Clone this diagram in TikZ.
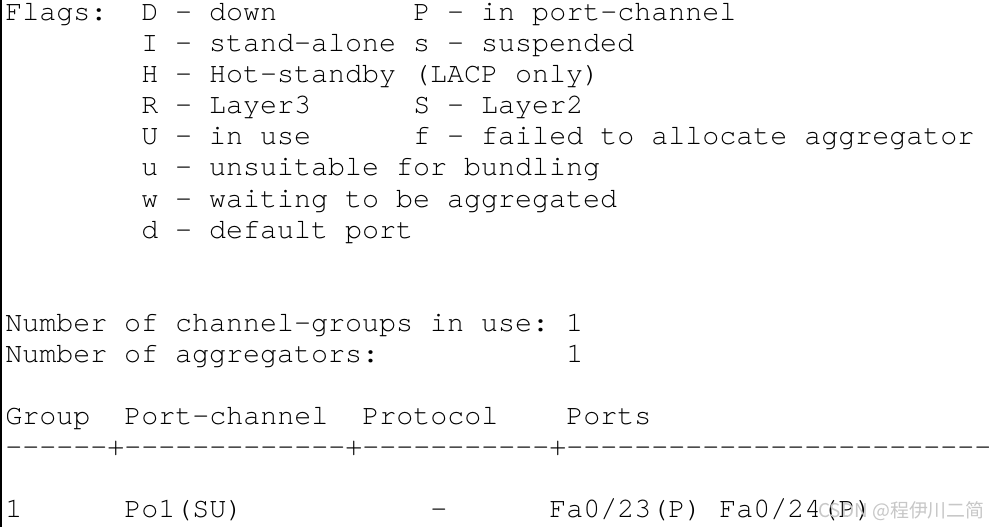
\documentclass[tikz,border=0pt]{standalone}
\usepackage{fontspec}
\setmonofont{TeX Gyre Cursor}
\newfontfamily\cjkfont{Noto Sans CJK SC}
\tikzset{
  tty/.style={anchor=base west, inner sep=0pt, text=black,
    font=\ttfamily\fontsize{21.25}{23.25}\selectfont},
  wmark/.style={anchor=base east, inner sep=0pt, text=black!22,
    font=\cjkfont\fontsize{14.2}{16}\selectfont}
}
\begin{document}
\begin{tikzpicture}[x=12.75pt, y=-23.25pt]
    % one column = 17px, one row = 31px, origin on first baseline
    \useasboundingbox[fill=white] (-0.2941,-0.6774) rectangle (57.882,16.323);
    \coordinate (top) at (-0.235,-0.6774);
    \coordinate (bot) at (-0.235,16.323);
    \draw [draw=black,line width=1.5pt] (top) -- (bot);

    \node[tty] (flags) at (0,0) {Flags:};
    \foreach \r/\t in {0/D - down, 1/I - stand-alone s - suspended,
        2/H - Hot-standby (LACP only), 3/R - Layer3, 4/U - in use,
        5/u - unsuitable for bundling, 6/w - waiting to be aggregated,
        7/d - default port}
        \node[tty] (fl\r) at (8,\r) {\t};
    \foreach \r/\t in {0/P - in port-channel, 3/S - Layer2,
        4/f - failed to allocate aggregator}
        \node[tty] (fr\r) at (24,\r) {\t};

    \node[tty] (ngroups) at (0,10) {Number of channel-groups in use: 1};
    \node[tty] (naggr) at (0,11) {Number of aggregators:};
    \node[tty] (naggrv) at (33,11) {1};

    \foreach \c/\t in {0/Group, 7/Port-channel, 21/Protocol, 33/Ports}
        \node[tty] (h\c) at (\c,13) {\t};
    \node[tty] (rule) at (0,14) {------+-------------+-----------+-------------------------};
    \foreach \c/\t in {0/1, 7/Po1(SU), 25/-, 32/{Fa0/23(P) Fa0/24(P)}}
        \node[tty] (d\c) at (\c,16) {\t};

    \node[wmark] (csdn) at (57.65,16) {CSDN @程伊川二简};
\end{tikzpicture}
\end{document}
